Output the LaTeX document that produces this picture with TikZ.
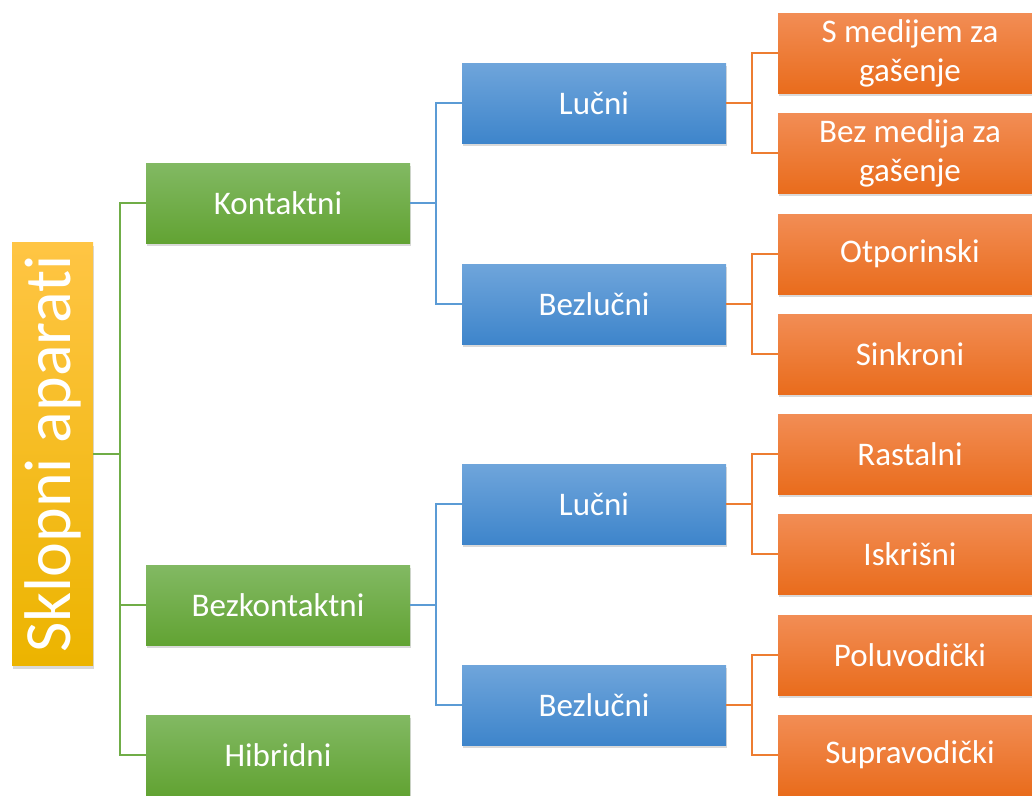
\documentclass[tikz,border=0pt]{standalone}
\usepackage{fontspec}
\setmainfont{Carlito}[Ligatures=NoCommon]
\usepackage{tikz}
\usetikzlibrary{
    positioning,
    shadows
}
\definecolor{GreenTop}{HTML}{82B963}
\definecolor{GreenBot}{HTML}{62A333}
\definecolor{BlueTop}{HTML}{6FA5DB}
\definecolor{BlueBot}{HTML}{3E85CB}
\definecolor{OrangeTop}{HTML}{F28D55}
\definecolor{OrangeBot}{HTML}{E96C1C}
\definecolor{YellowTop}{HTML}{FFC544}
\definecolor{YellowBot}{HTML}{ECB400}
\definecolor{GreenLine}{HTML}{70AD47}
\definecolor{BlueLine}{HTML}{5B9BD5}
\definecolor{OrangeLine}{HTML}{ED7D31}
\tikzset{
    box/.style={
        rectangle,
        minimum width=264pt,
        minimum height=80pt,
        inner sep=0pt,
        text=white,
        align=center,
        font=\fontsize{33}{39}\selectfont,
        drop shadow={shadow xshift=1pt, shadow yshift=-3pt, opacity=0.3}
    },
    greenbox/.style={box, top color=GreenTop, bottom color=GreenBot},
    bluebox/.style={box, top color=BlueTop, bottom color=BlueBot},
    orangebox/.style={box, top color=OrangeTop, bottom color=OrangeBot},
    rootbox/.style={
        box,
        minimum width=81pt,
        minimum height=423pt,
        top color=YellowTop,
        bottom color=YellowBot,
        font=\fontsize{66}{70}\selectfont
    },
    gline/.style={draw=GreenLine, line width=1.5pt},
    bline/.style={draw=BlueLine, line width=1.5pt},
    oline/.style={draw=OrangeLine, line width=1.5pt}
}

\begin{document}
\begin{tikzpicture}[
    x=1pt, y=1pt,
    on grid
]
    \useasboundingbox (0,0) rectangle (1032,-795);
    \clip (0,0) rectangle (1032,-795);

    % Koren
    \node[rootbox] (root) at (52.5,-454) {\rotatebox{90}{Sklopni aparati}};

    % Prvi nivo
    \node[greenbox] (kon) at (278,-203) {Kontaktni};
    \node[greenbox] (bezkon) [below=402pt of kon] {Bezkontaktni};
    \node[greenbox] (hib) [below=150pt of bezkon] {Hibridni};

    % Drugi nivo
    \node[bluebox] (konluc) [above right=100pt and 316pt of kon] {Lučni};
    \node[bluebox] (konbez) [below right=101pt and 316pt of kon] {Bezlučni};
    \node[bluebox] (bkluc) [above right=101pt and 316pt of bezkon] {Lučni};
    \node[bluebox] (bkbez) [below right=100pt and 316pt of bezkon] {Bezlučni};

    % Treci nivo
    \node[orangebox] (smed) [above right=50pt and 316pt of konluc] {S medijem za\\gašenje};
    \node[orangebox] (bezmed) [below right=50pt and 316pt of konluc] {Bez medija za\\gašenje};
    \node[orangebox] (otp) [above right=50pt and 316pt of konbez] {Otporinski};
    \node[orangebox] (sink) [below right=50pt and 316pt of konbez] {Sinkroni};
    \node[orangebox] (rast) [above right=50pt and 316pt of bkluc] {Rastalni};
    \node[orangebox] (iskr) [below right=50pt and 316pt of bkluc] {Iskrišni};
    \node[orangebox] (polu) [above right=50pt and 316pt of bkbez] {Poluvodički};
    \node[orangebox] (supra) [below right=50pt and 316pt of bkbez] {Supravodički};

    % Veze
    \foreach \child in {kon, bezkon, hib}
        \draw[gline] (root.east) -- ++(27,0) |- (\child.west);
    \foreach \child in {konluc, konbez}
        \draw[bline] (kon.east) -- ++(26,0) |- (\child.west);
    \foreach \child in {bkluc, bkbez}
        \draw[bline] (bezkon.east) -- ++(26,0) |- (\child.west);
    \foreach \parent/\child in {konluc/smed, konluc/bezmed, konbez/otp, konbez/sink,
                                bkluc/rast, bkluc/iskr, bkbez/polu, bkbez/supra}
        \draw[oline] (\parent.east) -- ++(26,0) |- (\child.west);

\end{tikzpicture}
\end{document}
